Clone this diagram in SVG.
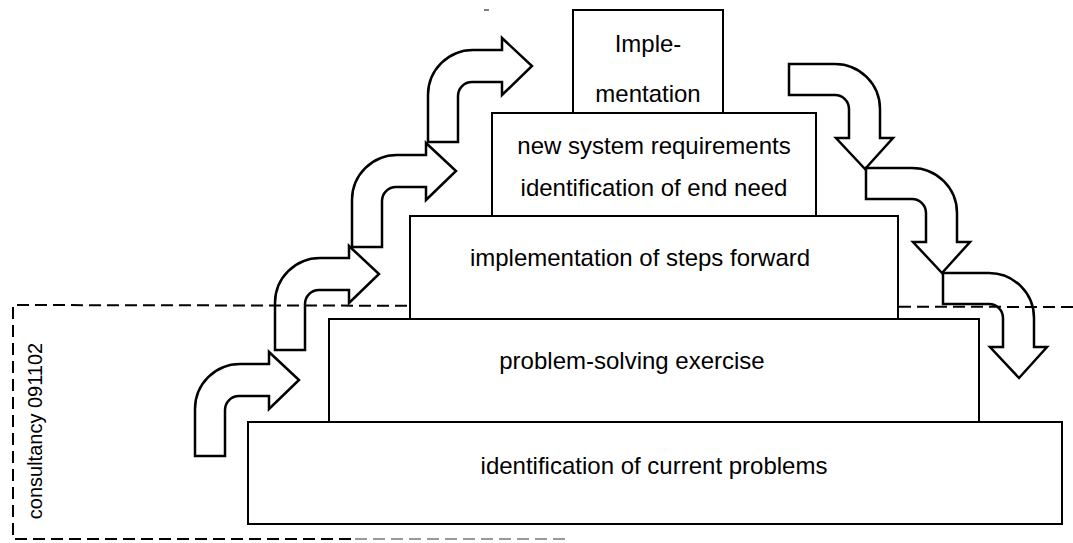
<svg xmlns="http://www.w3.org/2000/svg" width="1073" height="543" viewBox="0 0 1073 543">
<style>
.box{fill:#fff;stroke:#000;stroke-width:2}
.arr{fill:#fff;stroke:#000;stroke-width:2.5;stroke-linejoin:miter}
.lbl{font-family:"Liberation Sans",Arial,sans-serif;font-size:24px;fill:#000;text-anchor:middle}
.dash{fill:none;stroke:#000;stroke-width:2;stroke-dasharray:12 6}
.side{font-family:"Liberation Sans",Arial,sans-serif;font-size:20px;fill:#000;text-anchor:middle}
</style>
<defs>
<path id="upArrow" d="M0,92 L0,45 A45,45 0 0 1 45,0 L74,0 L74,-12 L104,16 L74,45 L74,32 L44,32 A14,14 0 0 0 30,46 L30,92 Z"/>
<path id="downArrow" d="M0,0 L46,0 A45,45 0 0 1 91,45 L91,74 L104,74 L76,105 L47,74 L60,74 L60,45 A14,14 0 0 0 46,31 L0,31 Z"/>
</defs>
<rect width="1073" height="543" fill="#fff"/>
<line x1="484" y1="10" x2="489" y2="10" stroke="#555" stroke-width="1.5"/>
<g id="connectors">
<use href="#upArrow" class="arr" transform="translate(195,364)"/>
<use href="#upArrow" class="arr" transform="translate(275,258)"/>
<use href="#upArrow" class="arr" transform="translate(352,155)"/>
<use href="#upArrow" class="arr" transform="translate(428,50)"/>
<use href="#downArrow" class="arr" transform="translate(789,64)"/>
<use href="#downArrow" class="arr" transform="translate(866,168)"/>
<use href="#downArrow" class="arr" transform="translate(943,273)"/>
</g>
<g id="frame">
<path class="dash" d="M1073,307 L13,305 L13,539 L355,539"/>
<path class="dash" d="M355,539 L565,539" style="stroke:#999"/>
<text class="side" transform="translate(42,431) rotate(-90)">consultancy 091102</text>
</g>
<g id="node-current">
<rect class="box" x="248" y="422" width="814" height="102"/>
<text class="lbl" x="654" y="474">identification of current problems</text>
</g>
<g id="node-problem">
<rect class="box" x="329" y="319" width="650" height="103"/>
<text class="lbl" x="632" y="369">problem-solving exercise</text>
</g>
<g id="node-steps">
<rect class="box" x="410" y="216" width="488" height="103"/>
<text class="lbl" x="640" y="266">implementation of steps forward</text>
</g>
<g id="node-newsystem">
<rect class="box" x="492" y="113" width="324" height="103"/>
<text class="lbl" x="654" y="154">new system  requirements</text>
<text class="lbl" x="654" y="196">identification of end need</text>
</g>
<g id="node-implementation">
<rect class="box" x="573" y="10" width="150" height="103"/>
<text class="lbl" x="648" y="52">Imple-</text>
<text class="lbl" x="648" y="102">mentation</text>
</g>
</svg>
